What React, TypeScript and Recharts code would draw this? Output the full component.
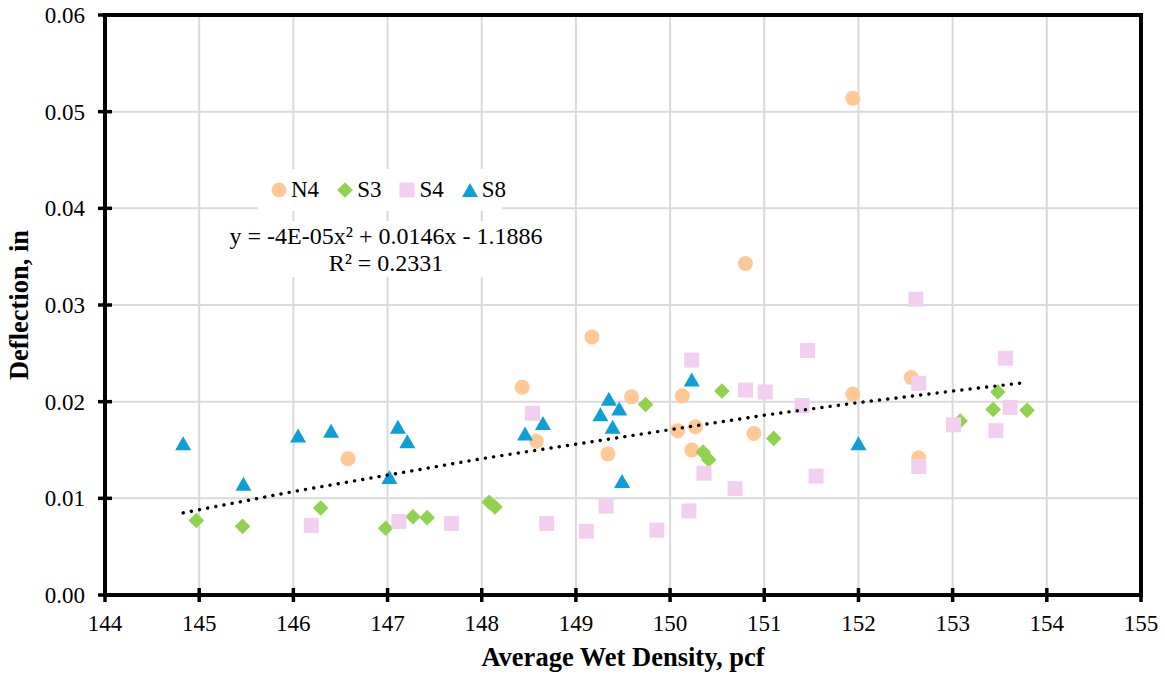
import React from "react";
import { ScatterChart, Scatter, XAxis, YAxis, CartesianGrid, ReferenceArea } from "recharts";

// Axis ticks
const xTicks = [144, 145, 146, 147, 148, 149, 150, 151, 152, 153, 154, 155];
const yTicks = [0, 0.01, 0.02, 0.03, 0.04, 0.05, 0.06];

// Series (x = average wet density pcf, y = deflection in)
const n4 = [
  { x: 146.58, y: 0.0141 }, { x: 148.43, y: 0.0215 }, { x: 148.58, y: 0.0159 },
  { x: 149.17, y: 0.0267 }, { x: 149.34, y: 0.0146 }, { x: 149.59, y: 0.0205 },
  { x: 150.08, y: 0.017 }, { x: 150.13, y: 0.0206 }, { x: 150.23, y: 0.015 },
  { x: 150.27, y: 0.0174 }, { x: 150.8, y: 0.0343 }, { x: 150.89, y: 0.0167 },
  { x: 151.94, y: 0.0514 }, { x: 151.94, y: 0.0208 }, { x: 152.56, y: 0.0225 },
  { x: 152.64, y: 0.0142 },
];

const s3 = [
  { x: 144.97, y: 0.0077 }, { x: 145.46, y: 0.0071 }, { x: 146.29, y: 0.009 },
  { x: 146.98, y: 0.0069 }, { x: 147.27, y: 0.0081 }, { x: 147.42, y: 0.008 },
  { x: 148.08, y: 0.0096 }, { x: 148.14, y: 0.0091 }, { x: 149.74, y: 0.0197 },
  { x: 150.35, y: 0.0148 }, { x: 150.41, y: 0.014 }, { x: 150.55, y: 0.0211 },
  { x: 151.1, y: 0.0162 }, { x: 153.08, y: 0.018 }, { x: 153.43, y: 0.0192 },
  { x: 153.48, y: 0.021 }, { x: 153.79, y: 0.0191 },
];

const s4 = [
  { x: 146.19, y: 0.0072 }, { x: 147.12, y: 0.0076 }, { x: 147.68, y: 0.0074 },
  { x: 148.54, y: 0.0188 }, { x: 148.69, y: 0.0074 }, { x: 149.11, y: 0.0066 },
  { x: 149.32, y: 0.0092 }, { x: 149.86, y: 0.0067 }, { x: 150.2, y: 0.0087 },
  { x: 150.23, y: 0.0243 }, { x: 150.36, y: 0.0126 }, { x: 150.69, y: 0.011 },
  { x: 150.8, y: 0.0212 }, { x: 151.01, y: 0.021 }, { x: 151.4, y: 0.0196 },
  { x: 151.46, y: 0.0253 }, { x: 151.55, y: 0.0123 }, { x: 152.61, y: 0.0306 },
  { x: 152.64, y: 0.0219 }, { x: 152.64, y: 0.0133 }, { x: 153.01, y: 0.0176 },
  { x: 153.46, y: 0.017 }, { x: 153.56, y: 0.0245 }, { x: 153.61, y: 0.0194 },
];

const s8 = [
  { x: 144.83, y: 0.0157 }, { x: 145.47, y: 0.0115 }, { x: 146.05, y: 0.0165 },
  { x: 146.4, y: 0.017 }, { x: 147.02, y: 0.0122 }, { x: 147.11, y: 0.0174 },
  { x: 147.21, y: 0.0159 }, { x: 148.46, y: 0.0167 }, { x: 148.65, y: 0.0178 },
  { x: 149.26, y: 0.0187 }, { x: 149.35, y: 0.0203 }, { x: 149.46, y: 0.0193 },
  { x: 149.39, y: 0.0174 }, { x: 149.49, y: 0.0118 }, { x: 150.23, y: 0.0223 },
  { x: 152.0, y: 0.0157 },
];

// Polynomial trendline
const trend = [
  { x: 144.83, y: 0.0085 }, { x: 146, y: 0.0107 }, { x: 147, y: 0.0124 },
  { x: 148, y: 0.0141 }, { x: 149, y: 0.0156 }, { x: 150, y: 0.0171 },
  { x: 151, y: 0.0186 }, { x: 152, y: 0.0199 }, { x: 153, y: 0.0211 },
  { x: 153.79, y: 0.022 },
];

// single family only: the renderer here ignores fallback lists
const FONT = "Liberation Serif";

const SERIES = [
  { name: "N4", kind: "circle", color: "#FFC896", data: n4 },
  { name: "S3", kind: "diamond", color: "#92D050", data: s3 },
  { name: "S4", kind: "square", color: "#F2CEEF", data: s4 },
  { name: "S8", kind: "triangle", color: "#0F9ED5", data: s8 },
];

function Marker({ kind, cx, cy, color }: { kind: string; cx: number; cy: number; color: string }) {
  if (kind === "circle") return <circle cx={cx} cy={cy} r={7.5} fill={color} />;
  if (kind === "diamond") {
    const r = 7.8;
    return <polygon points={`${cx},${cy - r} ${cx + r},${cy} ${cx},${cy + r} ${cx - r},${cy}`} fill={color} />;
  }
  if (kind === "square") return <rect x={cx - 7.5} y={cy - 7.5} width={15} height={15} fill={color} />;
  return <polygon points={`${cx},${cy - 7} ${cx + 8},${cy + 7} ${cx - 8},${cy + 7}`} fill={color} />;
}

function XTick({ x, y, payload }: any) {
  return (
    <g>
      <line x1={x} x2={x} y1={y - 7} y2={y + 7} stroke="#000" strokeWidth={3.5} />
      <text x={x} y={y + 36} textAnchor="middle" fontSize={23} fontFamily={FONT} fill="#000">
        {payload.value}
      </text>
    </g>
  );
}

function YTick({ x, y, payload }: any) {
  return (
    <g>
      <line x1={x - 7} x2={x + 7} y1={y} y2={y} stroke="#000" strokeWidth={3.5} />
      <text x={x - 20} y={y} dy="0.35em" textAnchor="end" fontSize={23} fontFamily={FONT} fill="#000">
        {Number(payload.value).toFixed(2)}
      </text>
    </g>
  );
}

export default function App() {
  return (
    <div
      style={{
        position: "absolute",
        left: 0,
        top: 0,
        width: 1165,
        height: 681,
        background: "#fff",
        fontFamily: FONT,
      }}
    >
      <ScatterChart width={1165} height={681} margin={{ top: 15, right: 24, bottom: 0, left: 0 }}>
        <CartesianGrid stroke="#D9D9D9" strokeWidth={2} />
        <XAxis
          type="number"
          dataKey="x"
          domain={[144, 155]}
          ticks={xTicks}
          interval={0}
          height={86}
          axisLine={false}
          tickLine={false}
          tickSize={0}
          tickMargin={0}
          tick={<XTick />}
          label={() => (
            <text x={623} y={666} textAnchor="middle" fontSize={26.5} fontWeight="bold" fontFamily={FONT} fill="#000">
              Average Wet Density, pcf
            </text>
          )}
        />
        <YAxis
          type="number"
          dataKey="y"
          domain={[0, 0.06]}
          ticks={yTicks}
          interval={0}
          width={105}
          axisLine={false}
          tickLine={false}
          tickSize={0}
          tickMargin={0}
          tick={<YTick />}
          label={() => (
            <text
              x={19}
              y={305}
              dy="0.35em"
              transform="rotate(-90 19 305)"
              textAnchor="middle"
              fontSize={26.5}
              fontWeight="bold"
              fontFamily={FONT}
              fill="#000"
            >
              Deflection, in
            </text>
          )}
        />
        {SERIES.map((s) => (
          <Scatter
            key={s.name}
            name={s.name}
            data={s.data}
            isAnimationActive={false}
            shape={(p: any) => <Marker kind={s.kind} cx={p.cx} cy={p.cy} color={s.color} />}
          />
        ))}
        <Scatter
          name="trend"
          data={trend}
          isAnimationActive={false}
          line={{ stroke: "#000", strokeWidth: 3.4, strokeDasharray: "0.1 8.2", strokeLinecap: "round" }}
          shape={() => <g />}
        />
        <ReferenceArea
          x1={144}
          x2={155}
          y1={0}
          y2={0.06}
          fill="none"
          fillOpacity={0}
          stroke="#000"
          strokeWidth={4}
          ifOverflow="visible"
        />
      </ScatterChart>

      {/* legend box */}
      <div
        style={{
          position: "absolute",
          left: 258,
          top: 169,
          width: 244,
          height: 42,
          background: "#fff",
          display: "flex",
          alignItems: "center",
          paddingLeft: 13,
          boxSizing: "border-box",
          fontSize: 23,
          color: "#000",
        }}
      >
        {SERIES.map((s) => (
          <div key={s.name} style={{ display: "flex", alignItems: "center", marginRight: 18 }}>
            <svg width={16} height={16} style={{ marginRight: 4 }}>
              <Marker kind={s.kind} cx={8} cy={8} color={s.color} />
            </svg>
            <span>{s.name}</span>
          </div>
        ))}
      </div>

      {/* trendline equation */}
      <div
        style={{
          position: "absolute",
          left: 220,
          top: 221,
          width: 332,
          height: 56,
          background: "#fff",
          textAlign: "center",
          fontSize: 24,
          lineHeight: "27px",
          paddingTop: 2,
          boxSizing: "border-box",
          color: "#000",
        }}
      >
        <div>y = -4E-05x² + 0.0146x - 1.1886</div>
        <div>R² = 0.2331</div>
      </div>
    </div>
  );
}
